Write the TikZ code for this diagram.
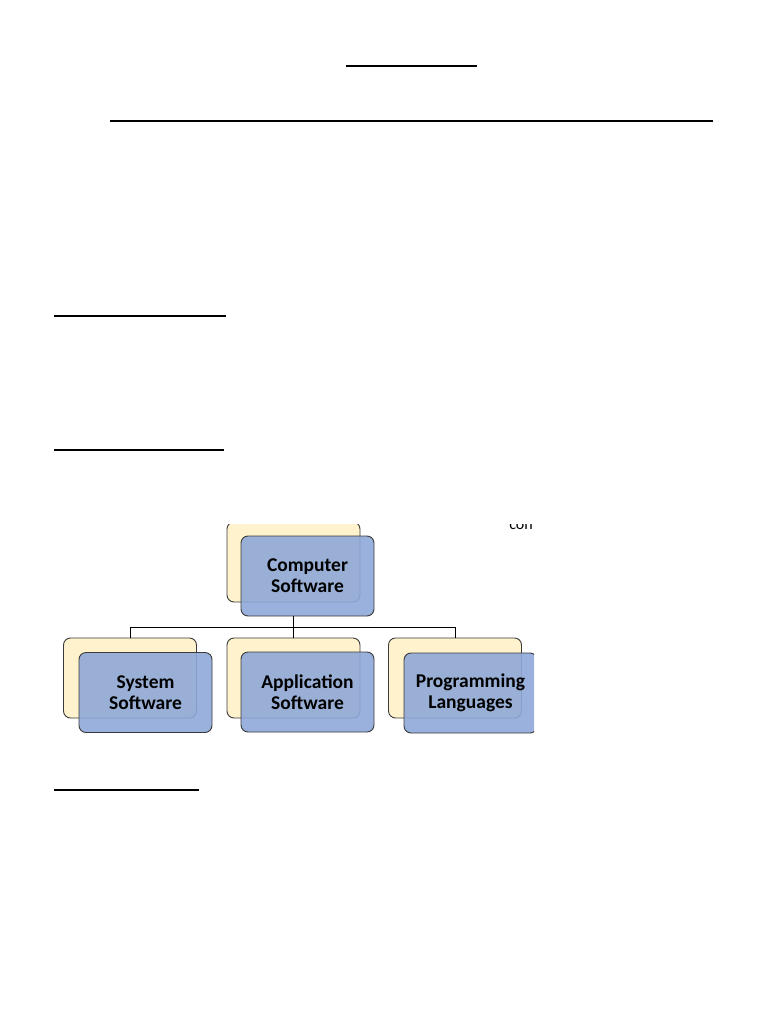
\documentclass[tikz,border=0pt]{standalone}
\usepackage{fontspec}
\setmainfont{Carlito}
\usepackage{xcolor}
\usetikzlibrary{positioning}
\definecolor{creamfill}{HTML}{FFF2CC}
\definecolor{bluefill}{HTML}{8EA8D8}
\definecolor{boxline}{HTML}{3A3A3A}

\begin{document}
\begin{tikzpicture}[x=1pt,y=-1pt,
  backbox/.style={draw=boxline,fill=creamfill,rounded corners=7pt,line width=0.9pt,
    minimum width=133pt,minimum height=80pt,inner sep=0pt},
  frontbox/.style={draw=boxline,fill=bluefill,fill opacity=0.9,text opacity=1,rounded corners=7pt,line width=0.9pt,
    minimum width=133pt,minimum height=80pt,inner sep=0pt,align=center,
    font=\fontsize{19.5}{21}\selectfont\bfseries},
  rule/.style={line width=1.6pt}]
  \useasboundingbox (0,0) rectangle (768,1024);

  % heading rules
  \draw[rule] (346,66) -- (477,66);
  \draw[rule] (110,121) -- (713,121);
  \draw[rule] (54,316) -- (226,316);
  \draw[rule] (54,450) -- (224,450);
  \draw[rule] (54,790) -- (199,790);

  \begin{scope}
    \clip (0,524) rectangle (534,745);
    \node[font=\fontsize{16}{18}\selectfont] (con) at (521,526) {con};

    \node[backbox] (topbg) at (293.5,562) {};
    \node[frontbox] (topfg) at (307.5,576) {Computer\\Software};

    \node[backbox] (sysbg) at (130,678) {};
    \node[frontbox] (sysfg) at (145.5,692.5) {System\\Software};

    \node[backbox] (appbg) at (293.5,678) {};
    \node[frontbox] (appfg) at (307.5,692) {Application\\Software};

    \node[backbox] (prgbg) at (455,678) {};
    \node[frontbox] (prgfg) at (470.5,693) {Programming\\Languages};

    \draw[line width=0.8pt] (topfg.south -| topbg.south) -- ++(0,11) -| (sysbg.north);
    \draw[line width=0.8pt] (topfg.south -| topbg.south) -- ++(0,11) -| (appbg.north);
    \draw[line width=0.8pt] (topfg.south -| topbg.south) -- ++(0,11) -| (prgbg.north);
  \end{scope}
\end{tikzpicture}
\end{document}
